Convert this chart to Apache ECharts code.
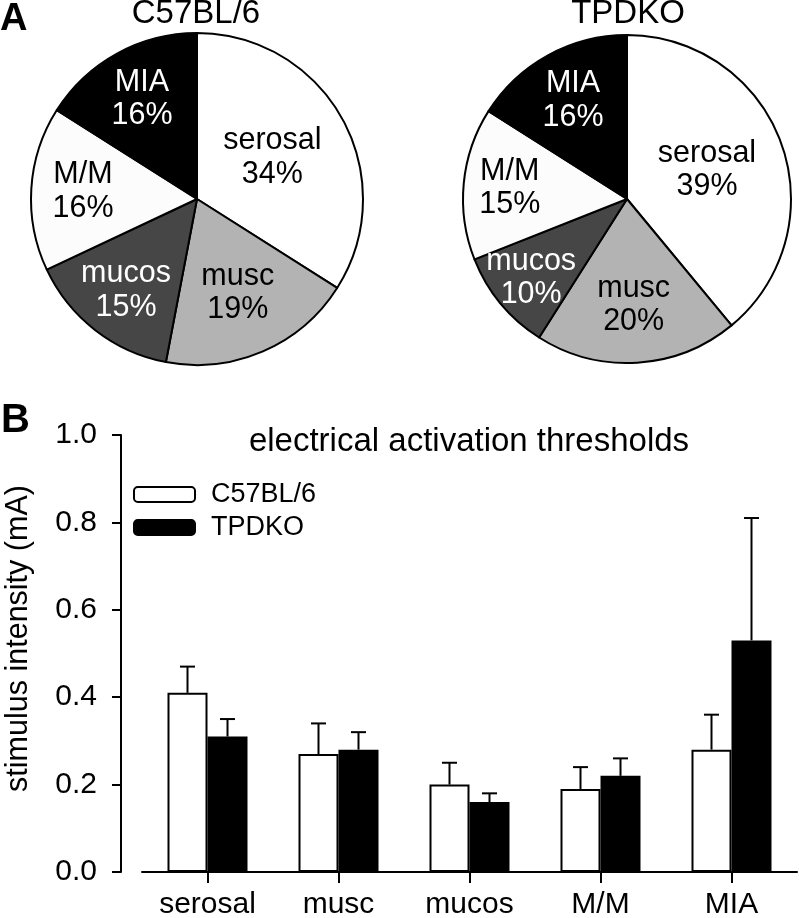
<!DOCTYPE html>
<html><head><meta charset="utf-8">
<script src="https://cdn.jsdelivr.net/npm/echarts@6/dist/echarts.min.js"></script>
<style>html,body{margin:0;padding:0;background:#fff}#c{width:799px;height:918px}</style>
</head><body><div id="c"></div>
<script>
const pieCategories = ['serosal', 'musc', 'mucos', 'M/M', 'MIA'];
const pieC57 = [34, 19, 15, 16, 16];
const pieTPDKO = [39, 20, 10, 15, 16];
const barCategories = ['serosal', 'musc', 'mucos', 'M/M', 'MIA'];
const c57Mean = [0.41, 0.27, 0.20, 0.19, 0.28];
const c57Upper = [0.47, 0.34, 0.25, 0.24, 0.36];
const tpdkoMean = [0.31, 0.28, 0.16, 0.22, 0.53];
const tpdkoUpper = [0.35, 0.32, 0.18, 0.26, 0.81];
const seriesNames = ['C57BL/6', 'TPDKO'];
const yTickLabels = ['0.0', '0.2', '0.4', '0.6', '0.8', '1.0'];

// style: label distance from pie centre as a fraction of the radius
const labelRadiusC57 = [0.5, 0.6, 0.68, 0.67, 0.67];
const labelRadiusTPDKO = [0.5, 0.63, 0.74, 0.7, 0.665];

const FONT = 'Liberation Sans, Arial, sans-serif';
const sliceColors = ['#ffffff', '#b3b3b3', '#464646', '#fcfcfc', '#000000'];
const labelColors = ['#000', '#000', '#fff', '#000', '#fff'];
const BAR_W = 40;

function pieData(vals) {
  return pieCategories.map((n, i) => ({
    name: n, value: vals[i],
    itemStyle: { color: sliceColors[i] },
    label: { color: labelColors[i] }
  }));
}
function pieSeries(vals, center, radius, labelRadius) {
  const total = vals.reduce((a, b) => a + b, 0);
  const mids = [];
  let acc = 0;
  vals.forEach(v => { mids.push((acc + v / 2) / total * 2 * Math.PI); acc += v; });
  return {
    type: 'pie', center: center, radius: radius, startAngle: 90, clockwise: true,
    avoidLabelOverlap: false, silent: true, animation: false,
    itemStyle: { borderColor: '#000', borderWidth: 2 },
    label: { show: true, position: 'inside', formatter: '{b}\n{c}%', fontSize: 30.5, lineHeight: 33.5, fontFamily: FONT, overflow: 'none' },
    labelLine: { show: false },
    labelLayout: function (p) {
      const i = p.dataIndex;
      const extra = (labelRadius[i] - 0.5) * radius;
      return { dx: extra * Math.sin(mids[i]), dy: -extra * Math.cos(mids[i]), hideOverlap: false };
    },
    data: pieData(vals)
  };
}
function errSeries(means, uppers, offset) {
  return {
    type: 'custom', z: 5, silent: true, animation: false,
    renderItem: function (params, api) {
      const i = api.value(0);
      const base = api.coord([i, api.value(1)]);
      const top = api.coord([i, api.value(2)]);
      const x = base[0] + offset;
      return { type: 'group', children: [
        { type: 'line', shape: { x1: x, y1: base[1], x2: x, y2: top[1] }, style: { stroke: '#000', lineWidth: 2 } },
        { type: 'line', shape: { x1: x - 7.5, y1: top[1], x2: x + 7.5, y2: top[1] }, style: { stroke: '#000', lineWidth: 2 } }
      ] };
    },
    data: barCategories.map((c, i) => [i, means[i], uppers[i]])
  };
}

const chart = echarts.init(document.getElementById('c'), null, { renderer: 'canvas' });
chart.setOption({
  backgroundColor: '#fff',
  animation: false,
  textStyle: { fontFamily: FONT, color: '#000' },
  title: [
    { text: 'A', left: 0, top: 1, padding: 0, textStyle: { fontSize: 38, fontWeight: 'bold', color: '#000', fontFamily: FONT } },
    { text: 'B', left: 1, top: 401, padding: 0, textStyle: { fontSize: 40, fontWeight: 'bold', color: '#000', fontFamily: FONT } },
    { text: 'C57BL/6', left: 196, top: -3, padding: 0, textAlign: 'center', textStyle: { fontSize: 33, fontWeight: 'normal', color: '#000', fontFamily: FONT } },
    { text: 'TPDKO', left: 628, top: -3, padding: 0, textAlign: 'center', textStyle: { fontSize: 33, fontWeight: 'normal', color: '#000', fontFamily: FONT } },
    { text: 'electrical activation thresholds', left: 469, top: 425, padding: 0, textAlign: 'center', textStyle: { fontSize: 33, fontWeight: 'normal', color: '#000', fontFamily: FONT } }
  ],
  legend: {
    data: seriesNames, orient: 'vertical', left: 133, top: 481, padding: 0,
    itemWidth: 61, itemHeight: 15, itemGap: 6,
    textStyle: { fontSize: 27, color: '#000', fontFamily: FONT, padding: [0, 0, 0, 11] },
    selectedMode: false
  },
  grid: { left: 142, right: 2, top: 435, bottom: 46, containLabel: false, outerBoundsMode: 'none' },
  xAxis: {
    type: 'category', data: barCategories,
    axisLine: { show: true, lineStyle: { color: '#000', width: 2 } },
    axisTick: { show: true, alignWithLabel: true, length: 11, lineStyle: { color: '#000', width: 2 } },
    axisLabel: { fontSize: 30, color: '#000', margin: 18, interval: 0, fontFamily: FONT },
    splitLine: { show: false }
  },
  yAxis: {
    type: 'value', min: 0, max: 1, interval: 0.2, offset: 21,
    name: 'stimulus intensity (mA)', nameLocation: 'middle', nameGap: 87,
    nameTextStyle: { fontSize: 30.5, color: '#000', fontFamily: FONT, padding: [0, 0, 0, 30] },
    axisLine: { show: true, lineStyle: { color: '#000', width: 2 } },
    axisTick: { show: true, length: 9, lineStyle: { color: '#000', width: 2 } },
    axisLabel: { fontSize: 30, color: '#000', margin: 24, fontFamily: FONT, formatter: function (v) { return yTickLabels[Math.round(v / 0.2)]; } },
    splitLine: { show: false }
  },
  series: [
    pieSeries(pieC57, [197, 199], 166, labelRadiusC57),
    pieSeries(pieTPDKO, [627, 199], 164, labelRadiusTPDKO),
    { name: seriesNames[0], type: 'bar', barWidth: BAR_W, barGap: '0%', data: c57Mean,
      itemStyle: { color: '#fff', borderColor: '#000', borderWidth: 2 } },
    { name: seriesNames[1], type: 'bar', barWidth: BAR_W, barGap: '0%', data: tpdkoMean,
      itemStyle: { color: '#000', borderColor: '#000', borderWidth: 2 } },
    errSeries(c57Mean, c57Upper, -BAR_W / 2),
    errSeries(tpdkoMean, tpdkoUpper, BAR_W / 2)
  ]
});
</script></body></html>
